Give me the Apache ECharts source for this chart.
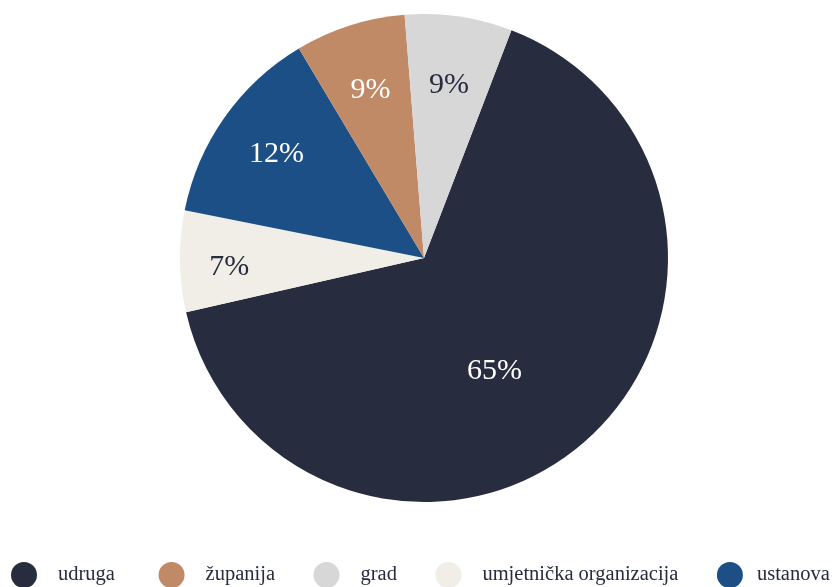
<!DOCTYPE html>
<html>
<head>
<meta charset="utf-8">
<script src="https://cdn.jsdelivr.net/npm/echarts@6/dist/echarts.min.js"></script>
<style>
html,body{margin:0;padding:0;background:#fff;}
#chart{width:837px;height:587px;}
</style>
</head>
<body>
<div id="chart"></div>
<script>
// Data (clockwise order of slices as drawn)
const categories = ['udruga', 'umjetnička organizacija', 'ustanova', 'županija', 'grad'];
const shares = [65.6, 6.7, 13.3, 7.3, 7.1];
const labelTexts = ['65%', '7%', '12%', '9%', '9%'];
const legendOrder = ['udruga', 'županija', 'grad', 'umjetnička organizacija', 'ustanova'];

const colorMap = {
  'udruga': '#272c3e',
  'umjetnička organizacija': '#f0eee7',
  'ustanova': '#1b4f85',
  'županija': '#c08a66',
  'grad': '#d7d7d7'
};
const labelColorMap = {
  'udruga': '#ffffff',
  'umjetnička organizacija': '#272c3e',
  'ustanova': '#ffffff',
  'županija': '#ffffff',
  'grad': '#272c3e'
};
// label placement tweaks: [radial ratio, angular shift in degrees]
const labelTweak = [[1.066, 9], [1.56, -2], [1.444, 0], [1.407, 0], [1.40, 0]];
// legend text style tweaks (per legend entry)
const legendText = {
  'ustanova': {padding: [0, 0, 0, 9]}
};

const CX = 424, CY = 258;

const chart = echarts.init(document.getElementById('chart'), null, {renderer: 'canvas'});
const option = {
  animation: false,
  legend: {
    data: legendOrder.map(n => legendText[n] ? {name: n, textStyle: legendText[n]} : {name: n}),
    formatter: n => (n === 'udruga' ? n + '\u00a0' : n),
    left: 6,
    top: 557,
    width: 1200,
    orient: 'horizontal',
    icon: 'circle',
    itemWidth: 26,
    itemHeight: 26,
    itemGap: 38.5,
    selectedMode: false,
    textStyle: {
      fontFamily: 'Liberation Serif',
      fontSize: 20.5,
      color: '#272c3e',
      padding: [0, 0, 0, 16]
    }
  },
  series: [{
    type: 'pie',
    center: [CX, CY],
    radius: [0, 244],
    startAngle: 69,
    clockwise: true,
    avoidLabelOverlap: false,
    minShowLabelAngle: 0,
    emphasis: {disabled: true},
    itemStyle: {borderWidth: 0},
    label: {
      show: true,
      position: 'inside',
      fontFamily: 'Liberation Serif',
      fontSize: 30,
      formatter: p => labelTexts[p.dataIndex]
    },
    labelLine: {show: false},
    labelLayout: function (p) {
      const r = p.labelRect;
      const x = r.x + r.width / 2 - CX;
      const y = r.y + r.height / 2 - CY;
      const t = labelTweak[p.dataIndex];
      const th = t[1] * Math.PI / 180;
      const nx = (x * Math.cos(th) - y * Math.sin(th)) * t[0];
      const ny = (x * Math.sin(th) + y * Math.cos(th)) * t[0];
      return {dx: nx - x, dy: ny - y};
    },
    data: categories.map((c, i) => ({
      name: c,
      value: shares[i],
      itemStyle: {color: colorMap[c]},
      label: {color: labelColorMap[c]}
    }))
  }]
};
chart.setOption(option);
</script>
</body>
</html>
